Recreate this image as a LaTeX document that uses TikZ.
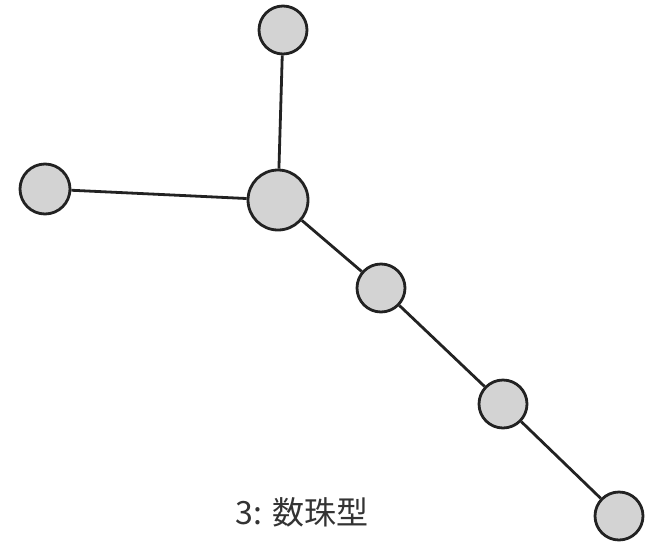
\documentclass[tikz,border=0pt]{standalone}
\usepackage{fontspec}
\newfontfamily\cjk{Noto Sans CJK JP}
\definecolor{nodefill}{HTML}{D3D3D3}
\definecolor{edgecol}{HTML}{222222}
\definecolor{txtcol}{HTML}{333333}
\begin{document}
\begin{tikzpicture}[x=1pt,y=-1pt,
  bead/.style={circle,draw=edgecol,fill=nodefill,line width=2.8pt,inner sep=0pt,minimum size=#1},
  bead/.default=48pt,
  link/.style={draw=edgecol,line width=2.8pt}]
\useasboundingbox (0,0) rectangle (652,541);
\node[bead] (top) at (283,30) {};
\node[bead=50pt] (left) at (45,189) {};
\node[bead=60pt] (hub) at (278,200) {};
\node[bead] (b1) at (381,288) {};
\node[bead] (b2) at (503,404) {};
\node[bead] (b3) at (619,516) {};
\draw[link] (top) -- (hub);
\draw[link] (left) -- (hub);
\draw[link] (hub) -- (b1);
\draw[link] (b1) -- (b2);
\draw[link] (b2) -- (b3);
\node[text=txtcol,font=\cjk\fontsize{32}{38}\selectfont,anchor=center] (cap) at (302,512) {3:\hspace{0.3em}数珠型};
\end{tikzpicture}
\end{document}
